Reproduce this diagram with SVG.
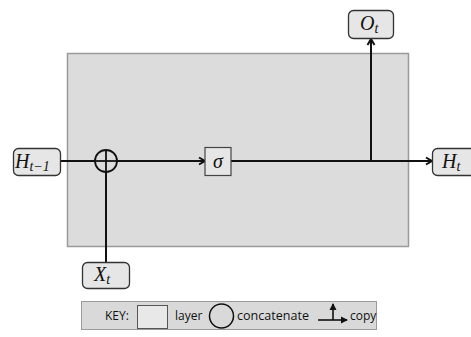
<svg xmlns="http://www.w3.org/2000/svg" width="471" height="337" viewBox="0 0 471 337">
<style>
.node{fill:#e6e6e6;stroke:#333;stroke-width:1.3}
.math{font-family:"Liberation Serif",serif;font-style:italic;font-size:20px;fill:#111}
.sub{font-size:14px}
.conn{stroke:#111;stroke-width:2;fill:none}
.key{font-family:"Open Sans","Noto Sans",sans-serif;font-size:12px;fill:#111}
</style>
<defs>
<marker id="arr" markerWidth="10" markerHeight="10" refX="8" refY="5" orient="auto" markerUnits="userSpaceOnUse">
<path d="M2,1.5 L8,5 L2,8.5" fill="none" stroke="#111" stroke-width="2"/>
</marker>
<marker id="arrs" markerWidth="8" markerHeight="8" refX="6" refY="4" orient="auto" markerUnits="userSpaceOnUse">
<path d="M0,0.5 L7,4 L0,7.5 Z" fill="#111"/>
</marker>
</defs>
<rect x="0" y="0" width="471" height="337" fill="#fff"/>
<g id="layer-box"><rect x="67.5" y="53.5" width="341" height="193" fill="#dcdcdc" stroke="#9a9a9a" stroke-width="1.5"/></g>
<g id="connectors">
<line class="conn" x1="61" y1="161" x2="95" y2="161"/>
<line class="conn" x1="117" y1="161" x2="205" y2="161" marker-end="url(#arr)"/>
<line class="conn" x1="231" y1="161" x2="432" y2="161" marker-end="url(#arr)"/>
<line class="conn" x1="371" y1="161" x2="371" y2="39" marker-end="url(#arr)"/>
<line class="conn" x1="106" y1="172" x2="106" y2="262"/>
</g>
<g id="concat">
<circle cx="106" cy="161" r="11" fill="none" stroke="#111" stroke-width="1.8"/>
<line x1="95" y1="161" x2="117" y2="161" stroke="#111" stroke-width="1.8"/>
<line x1="106" y1="150" x2="106" y2="172" stroke="#111" stroke-width="1.8"/>
</g>
<g id="sigma">
<rect x="205" y="147.5" width="26" height="28" fill="#e6e6e6" stroke="#444" stroke-width="1.2"/>
<text class="math" x="218" y="168" text-anchor="middle" font-size="19">σ</text>
</g>
<g id="H_prev">
<rect class="node" x="13.5" y="148.5" width="47" height="27" rx="5"/>
<text class="math" x="15" y="168">H<tspan class="sub" dy="3">t−1</tspan></text>
</g>
<g id="X_t">
<rect class="node" x="82.5" y="262.5" width="47" height="26" rx="5"/>
<text class="math" x="94" y="281">X<tspan class="sub" dy="3">t</tspan></text>
</g>
<g id="O_t">
<rect class="node" x="348.5" y="10.5" width="45" height="28" rx="5"/>
<text class="math" x="360" y="30">O<tspan class="sub" dy="3">t</tspan></text>
</g>
<g id="H_t">
<rect class="node" x="432.5" y="148.5" width="45" height="27" rx="5"/>
<text class="math" x="442" y="168">H<tspan class="sub" dy="3">t</tspan></text>
</g>
<g id="key">
<rect x="81.5" y="301.5" width="295" height="28" fill="#d9d9d9" stroke="#9a9a9a" stroke-width="1"/>
<text class="key" x="105" y="320">KEY:</text>
<rect x="137.5" y="305.5" width="30" height="23" fill="#e8e8e8" stroke="#555" stroke-width="1"/>
<text class="key" x="175" y="320">layer</text>
<circle cx="221.5" cy="316" r="12" fill="none" stroke="#111" stroke-width="1.5"/>
<text class="key" x="237" y="320" textLength="72" lengthAdjust="spacingAndGlyphs">concatenate</text>
<line x1="318" y1="320" x2="347" y2="320" stroke="#111" stroke-width="1.6" marker-end="url(#arrs)"/>
<line x1="333" y1="320" x2="333" y2="304" stroke="#111" stroke-width="1.6" marker-end="url(#arrs)"/>
<text class="key" x="350" y="320">copy</text>
</g>
</svg>
